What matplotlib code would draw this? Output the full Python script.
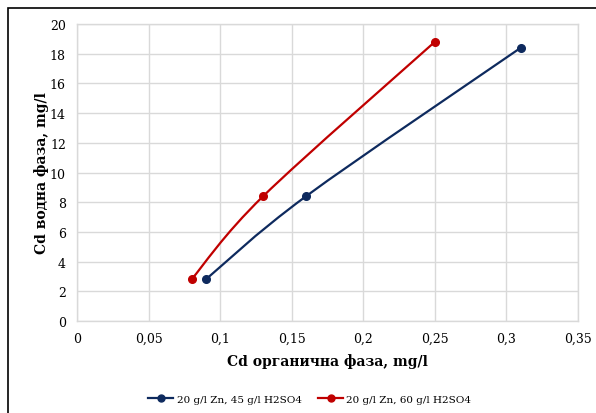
import numpy as np
import matplotlib
matplotlib.use('Agg')
import matplotlib.pyplot as plt
from matplotlib.path import Path
from matplotlib.patches import PathPatch, Rectangle
from matplotlib.lines import Line2D

plt.rcParams['font.family'] = ['DejaVu Serif']

# Cd в органична фаза (x) и във водна фаза (y), mg/l
x_45 = [0.09, 0.16, 0.31]
y_45 = [2.8, 8.4, 18.4]
x_60 = [0.08, 0.13, 0.25]
y_60 = [2.8, 8.4, 18.8]

labels = ['20 g/l Zn, 45 g/l H2SO4', '20 g/l Zn, 60 g/l H2SO4']
colors = ['#0e2a5e', '#c00000']

x_ticks = [0, 0.05, 0.1, 0.15, 0.2, 0.25, 0.3, 0.35]
x_ticklabels = ['0', '0,05', '0,1', '0,15', '0,2', '0,25', '0,3', '0,35']
y_ticks = list(range(0, 21, 2))


def smooth_path(xs, ys):
    # гладка линия през точките (Catmull-Rom -> кубични Безие)
    pts = np.column_stack([xs, ys])
    ext = np.vstack([pts[0], pts, pts[-1]])
    verts = [tuple(pts[0])]
    codes = [Path.MOVETO]
    for i in range(len(pts) - 1):
        p0, p1, p2, p3 = ext[i], ext[i + 1], ext[i + 2], ext[i + 3]
        c1 = p1 + (p2 - p0) / 6
        c2 = p2 - (p3 - p1) / 6
        verts += [tuple(c1), tuple(c2), tuple(p2)]
        codes += [Path.CURVE4] * 3
    return Path(verts, codes)


fig = plt.figure(figsize=(5.96, 4.14), dpi=100)
ax = fig.add_axes([0.1292, 0.2222, 0.8406, 0.7174])

handles = []
for xs, ys, c, lab in [(x_45, y_45, colors[0], labels[0]),
                       (x_60, y_60, colors[1], labels[1])]:
    ax.add_patch(PathPatch(smooth_path(xs, ys), facecolor='none',
                           edgecolor=c, lw=1.6, zorder=3))
    ax.plot(xs, ys, 'o', color=c, ms=5.5, zorder=4)
    handles.append(Line2D([], [], color=c, lw=1.6, marker='o', ms=5, label=lab))

ax.set_xlim(0, 0.35)
ax.set_ylim(0, 20)
ax.set_xticks(x_ticks)
ax.set_xticklabels(x_ticklabels)
ax.set_yticks(y_ticks)
ax.tick_params(length=0, labelsize=9, pad=8)
ax.grid(True, color='#d9d9d9', lw=1)
ax.set_axisbelow(True)
for s in ax.spines.values():
    s.set_color('#d9d9d9')
    s.set_linewidth(1)

ax.set_xlabel('Cd органична фаза, mg/l', fontsize=10, fontweight='bold', labelpad=6)
ax.set_ylabel('Cd водна фаза, mg/l', fontsize=10, fontweight='bold', labelpad=1)

fig.legend(handles=handles, loc='center', bbox_to_anchor=(0.52, 0.034), ncol=2,
           frameon=False, fontsize=7.5, handlelength=2.4, columnspacing=1.6,
           handletextpad=0.3)

fig.patches.append(Rectangle((8 / 596, -0.1), 1.2, 0.1 + 405 / 414,
                             transform=fig.transFigure, fill=False,
                             edgecolor='black', lw=1.2))

fig.savefig('out.png', dpi=100)
